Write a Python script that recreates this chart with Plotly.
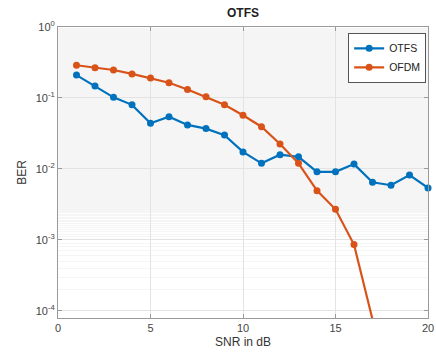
import plotly.graph_objects as go

snr = list(range(1, 21))
otfs_ber = [0.21, 0.148, 0.102, 0.080, 0.044, 0.0545, 0.0417, 0.037, 0.030, 0.0174,
            0.012, 0.0159, 0.0148, 0.0091, 0.0091, 0.0117, 0.0065, 0.0059, 0.0082, 0.0054]
ofdm_snr = list(range(1, 18))
ofdm_ber = [0.289, 0.267, 0.248, 0.218, 0.191, 0.164, 0.132, 0.104, 0.080, 0.057,
            0.0394, 0.0225, 0.012, 0.00495, 0.0027, 8.6e-4, 7.6e-5]
ytick_vals = [1e-4, 1e-3, 1e-2, 1e-1, 1]
ytick_text = ["10<sup>-4</sup>", "10<sup>-3</sup>", "10<sup>-2</sup>", "10<sup>-1</sup>", "10<sup>0</sup>"]

fig = go.Figure()
fig.add_trace(go.Scatter(x=snr, y=otfs_ber, name="OTFS", mode="lines+markers",
                         line=dict(color="#0072BD", width=2.2),
                         marker=dict(size=7, color="#0072BD"), cliponaxis=False))
fig.add_trace(go.Scatter(x=ofdm_snr, y=ofdm_ber, name="OFDM", mode="lines+markers",
                         line=dict(color="#D95319", width=2.2),
                         marker=dict(size=7, color="#D95319"), cliponaxis=False))

axis_common = dict(showline=True, linecolor="#9a9a9a", linewidth=1, mirror="ticks",
                   ticks="inside", ticklen=4, tickcolor="#9a9a9a",
                   gridcolor="#e3e3e3", gridwidth=1, zeroline=False, automargin=False,
                   tickfont=dict(size=11, color="#444444"))

fig.update_layout(
    width=436, height=354,
    margin=dict(l=58, r=8, t=27, b=36),
    paper_bgcolor="white", plot_bgcolor="white",
    font=dict(family="Liberation Sans, Arial, sans-serif", color="#333333"),
    title=dict(text="<b>OTFS</b>", x=0.5, xanchor="center", xref="paper",
               y=1, yref="container", yanchor="top", pad=dict(t=9),
               font=dict(size=12, color="#222222")),
    xaxis=dict(range=[0, 20], tickmode="linear", tick0=0, dtick=5,
               title=dict(text="SNR in dB", font=dict(size=12, color="#333333"), standoff=4),
               **axis_common),
    yaxis=dict(type="log", range=[-4.1, 0], tickvals=ytick_vals, ticktext=ytick_text,
               title=dict(text="BER", font=dict(size=12, color="#333333"), standoff=6),
               minor=dict(showgrid=True, gridcolor="#f5f5f5", ticks=""),
               **axis_common),
    legend=dict(x=0.995, y=0.98, xanchor="right", yanchor="top",
                bgcolor="white", bordercolor="#555555", borderwidth=1,
                font=dict(size=10.5, color="#222222"), tracegroupgap=0,
                itemwidth=30),
    showlegend=True,
)

fig.write_html("out.html", config={"displayModeBar": False},
               post_script="document.body.style.margin='0';document.body.style.padding='0';")
